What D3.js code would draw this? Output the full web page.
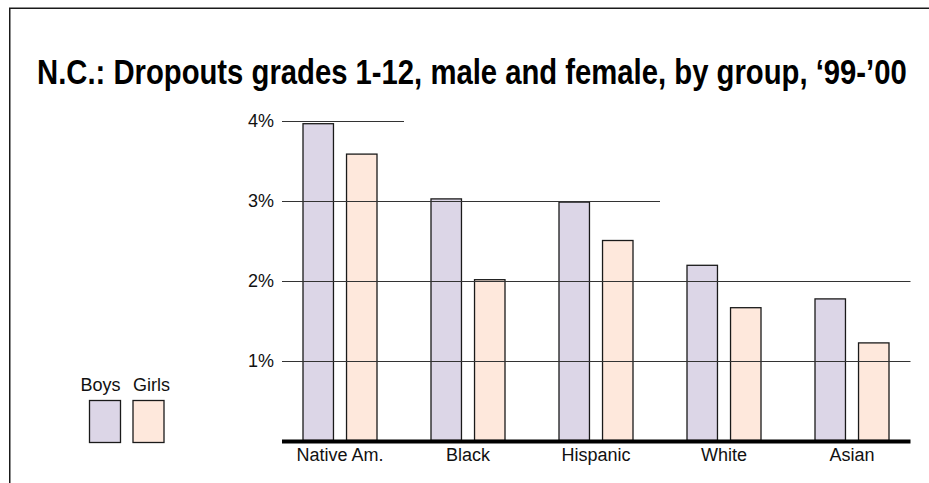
<!DOCTYPE html>
<html>
<head>
<meta charset="utf-8">
<script src="https://cdn.jsdelivr.net/npm/d3@7/dist/d3.min.js"></script>
<style>
  html, body { margin: 0; padding: 0; background: #fff; }
  svg { display: block; }
  .sans { font-family: "Liberation Sans", Arial, Helvetica, sans-serif; }
</style>
</head>
<body>
<svg id="chart" width="929" height="483"></svg>
<script>
// Dropout rates (%) by group, school year 1999-2000
const categories = ["Native Am.", "Black", "Hispanic", "White", "Asian"];
const series = ["Boys", "Girls"];
const boys  = [3.96, 3.02, 2.98, 2.19, 1.77];
const girls = [3.58, 2.01, 2.50, 1.66, 1.22];
const yTicks = [1, 2, 3, 4];
const tickLabels = ["1%", "2%", "3%", "4%"];
// Each gridline runs as far as the band of this group (null = full width)
const gridEnds = [null, null, "Hispanic", "Native Am."];
const titleText = "N.C.: Dropouts grades 1-12, male and female, by group, \u201899-\u201900";

const colors = { Boys: "#dcd6e7", Girls: "#fee8dc" };
const values = { Boys: boys, Girls: girls };

const svg = d3.select("#chart");

// Frame: top and left rules
svg.append("line").attr("x1", 9).attr("x2", 929).attr("y1", 8.25).attr("y2", 8.25)
  .attr("stroke", "#1a1a1a").attr("stroke-width", 1.5);
svg.append("line").attr("x1", 9.75).attr("x2", 9.75).attr("y1", 8).attr("y2", 483)
  .attr("stroke", "#1a1a1a").attr("stroke-width", 1.5);

// Title, condensed horizontally to span the chart width
const titleWidth = 870;
const titleG = svg.append("g");
const title = titleG.append("text")
  .attr("x", 0).attr("y", 0)
  .style("font-family", "'Liberation Sans Narrow', 'Arial Narrow', 'Liberation Sans', Arial, sans-serif")
  .style("font-weight", "bold").style("font-size", "35px")
  .attr("fill", "#000")
  .text(titleText);
const natural = title.node().getComputedTextLength();
titleG.attr("transform", `translate(37,83.5) scale(${titleWidth / natural},1)`);

// Scales
const x0 = d3.scaleBand().domain(categories).range([276, 916]);
const groupWidth = 74;
const x1 = d3.scaleBand().domain(series).range([0, groupWidth]).paddingInner(0.3);
const y = d3.scaleLinear().domain([0, 4]).range([440.5, 120.5]);
const groupStart = c => x0(c) + (x0.bandwidth() - groupWidth) / 2;

const rows = categories.map((c, i) => ({ c, vals: series.map(s => ({ s, v: values[s][i] })) }));

// Bars
const g = svg.append("g");
g.selectAll("g.grp").data(rows).join("g").attr("class", "grp")
  .attr("transform", d => `translate(${groupStart(d.c)},0)`)
  .selectAll("rect").data(d => d.vals).join("rect")
  .attr("x", d => x1(d.s))
  .attr("y", d => y(d.v))
  .attr("width", x1.bandwidth())
  .attr("height", d => y(0) - y(d.v))
  .attr("fill", d => colors[d.s])
  .attr("stroke", "#1a1a1a").attr("stroke-width", 1.3);

// Gridlines, drawn over the bars
const gridX0 = 282;
const gridXMax = 910.5;
svg.append("g").selectAll("line").data(yTicks).join("line")
  .attr("x1", gridX0)
  .attr("x2", (t, i) => gridEnds[i] ? x0(gridEnds[i]) + x0.bandwidth() : gridXMax)
  .attr("y1", t => Math.round(y(t)) + 0.5)
  .attr("y2", t => Math.round(y(t)) + 0.5)
  .attr("stroke", "#333").attr("stroke-width", 1);

// Y tick labels
svg.append("g").selectAll("text").data(yTicks).join("text")
  .attr("class", "sans")
  .attr("x", 274).attr("y", t => y(t) + 6.5)
  .attr("text-anchor", "end")
  .style("font-size", "18px").attr("fill", "#111")
  .text((t, i) => tickLabels[i]);

// Baseline
svg.append("line").attr("x1", gridX0).attr("x2", gridXMax)
  .attr("y1", y(0) + 1).attr("y2", y(0) + 1)
  .attr("stroke", "#000").attr("stroke-width", 4);

// Category labels
svg.append("g").selectAll("text").data(categories).join("text")
  .attr("class", "sans")
  .attr("x", c => x0(c) + x0.bandwidth() / 2)
  .attr("y", 461)
  .attr("text-anchor", "middle")
  .style("font-size", "18px").attr("fill", "#111")
  .text(c => c);

// Legend
const legend = svg.append("g");
const legendX = { Boys: 89.5, Girls: 133 };
const swW = 31, swH = 42;
legend.selectAll("rect").data(series).join("rect")
  .attr("x", s => legendX[s]).attr("y", 400.5)
  .attr("width", swW).attr("height", swH)
  .attr("fill", s => colors[s])
  .attr("stroke", "#1a1a1a").attr("stroke-width", 1.3);
legend.selectAll("text").data(series).join("text")
  .attr("class", "sans")
  .attr("x", s => s === "Boys" ? legendX[s] + swW : legendX[s])
  .attr("y", 391)
  .attr("text-anchor", s => s === "Boys" ? "end" : "start")
  .style("font-size", "18px").attr("fill", "#111")
  .text(s => s);
</script>
</body>
</html>
